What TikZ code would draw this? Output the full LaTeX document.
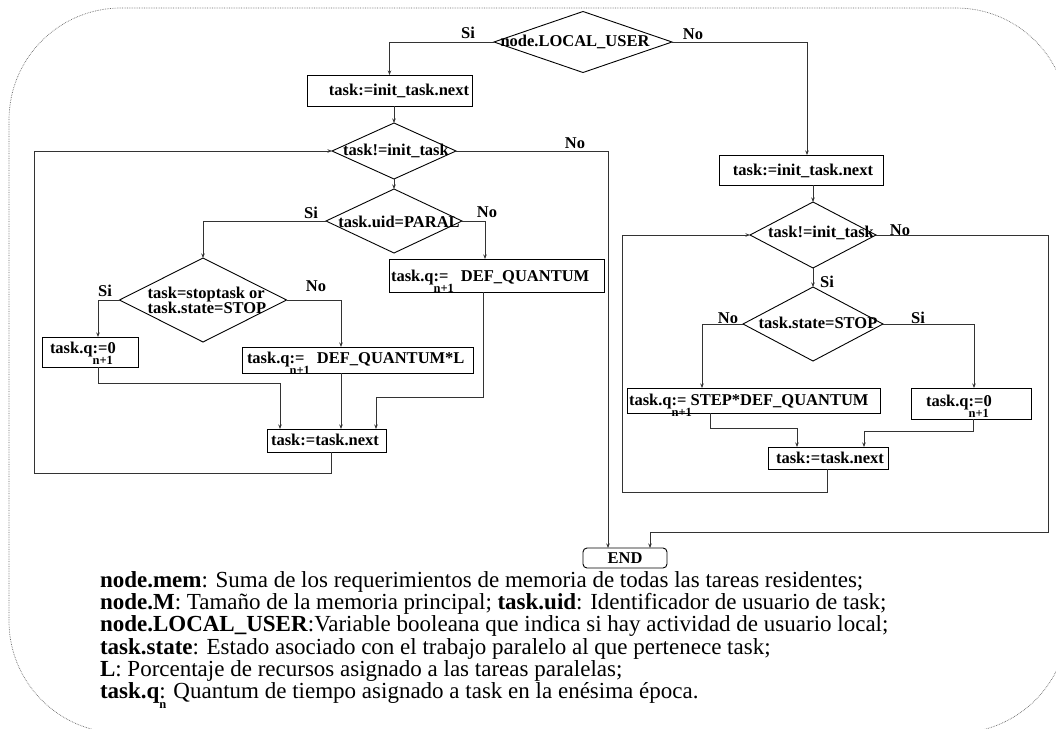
\documentclass[tikz,border=0pt]{standalone}
\usepackage{fontspec}
\setmainfont{Liberation Serif}
\usetikzlibrary{shapes.geometric,arrows.meta}
\newcommand\flowfont{\fontsize{16.5}{18}\selectfont\bfseries}
\newcommand\subfont{\fontsize{12.5}{13}\selectfont\bfseries}
\newcommand\notefont{\fontsize{23}{22.3}\selectfont}
% subscript set under the following characters
\newcommand\qsub[1]{\rlap{\raisebox{-0.7em}{\subfont #1}}}
\begin{document}
\begin{tikzpicture}[x=1pt,y=-1pt,
  every node/.style={inner sep=0pt, outer sep=0pt},
  box/.style={draw, line width=0.9pt, rectangle},
  dia/.style={draw, diamond, line width=0.9pt},
  txt/.style={font=\flowfont},
  lab/.style={font=\flowfont},
  conn/.style={draw=black!80, line width=0.8pt},
  arr/.style={conn, -{Stealth[length=4.5pt,width=3.5pt]}},
  frame/.style={draw=black!60, densely dotted, line width=0.7pt},
  note/.style={font=\notefont, anchor=base west, text height=15pt, text depth=4pt},
]
\useasboundingbox (0,0) rectangle (1056,728);
\begin{scope}
\clip (0,0) rectangle (1056,728);
% rounded frame; its right side and bottom run past the page
\draw[frame, rounded corners=112pt] (1068,621) -- (1068,733) -- (9,733) -- (9,8) -- (1068,8) -- (1068,120);
\end{scope}

% ---------- top decision ----------
\node[dia, minimum width=178, minimum height=61] (d1) at (583,42) {};
\node[txt] (d1t) at (575,42) {node.LOCAL\_USER};

% ---------- left branch ----------
\node[box, minimum width=165, minimum height=31] (b1) at (389.5,90.5) {};
\node[txt] (b1t) at (399,91) {task:=init\_task.next};

\node[dia, minimum width=124, minimum height=56] (d2) at (394,151) {};
\node[txt] (d2t) at (396,151) {task!=init\_task};

\node[dia, minimum width=136, minimum height=64] (d3) at (394,221) {};
\node[txt] (d3t) at (399,222) {task.uid=PARAL};

\node[dia, minimum width=167, minimum height=84] (d4) at (203,300) {};
\node[txt, align=left] (d4t) at (207,300) {task=stoptask or\\[-3pt]task.state=STOP};

\node[box, minimum width=215, minimum height=33] (bq) at (496.5,275.5) {};
\node[txt, anchor=base west] (bqt) at (391,281) {task.q\qsub{n+1}:=\hspace{0.75em}DEF\_QUANTUM};

\node[box, minimum width=96, minimum height=30] (bz) at (90,352) {};
\node[txt, anchor=base west] (bzt) at (50,353) {task.q\qsub{n+1}:=0};

\node[box, minimum width=231, minimum height=26] (bL) at (357.5,360) {};
\node[txt, anchor=base west] (bLt) at (247,363) {task.q\qsub{n+1}:=\hspace{0.75em}DEF\_QUANTUM*L};

\node[box, minimum width=119, minimum height=23] (bn) at (326.5,440.5) {};
\node[txt] (bnt) at (325,440) {task:=task.next};

% ---------- right branch ----------
\node[box, minimum width=164, minimum height=30] (b2) at (801,170) {};
\node[txt] (b2t) at (803,171) {task:=init\_task.next};

\node[dia, minimum width=126, minimum height=66] (d5) at (813,235) {};
\node[txt] (d5t) at (821,233) {task!=init\_task};

\node[dia, minimum width=140, minimum height=74] (d6) at (813,324) {};
\node[txt] (d6t) at (818,323) {task.state=STOP};

\node[box, minimum width=253, minimum height=25] (bS) at (753.5,400.5) {};
\node[txt, anchor=base west] (bSt) at (629,405) {task.q\qsub{n+1}:= STEP*DEF\_QUANTUM};

\node[box, minimum width=120, minimum height=31] (bz2) at (971,403.5) {};
\node[txt, anchor=base west] (bz2t) at (926,406) {task.q\qsub{n+1}:=0};

\node[box, minimum width=120, minimum height=22] (bn2) at (828,458) {};
\node[txt] (bn2t) at (830,458) {task:=task.next};

% ---------- end ----------
\node[draw, line width=0.9pt, rounded corners=4pt, minimum width=84, minimum height=20,
      font=\flowfont] (end) at (625,558) {END};

% ---------- connectors ----------
\draw[arr] (d1.west) -| (b1.north);
\draw[arr] (d1.east) -| ([xshift=6]b2.north);
\node[lab] (l1) at (468,33) {Si};
\node[lab] (l2) at (693,34) {No};

\draw[arr] (d2.north |- b1.south) -- (d2.north);
\draw[arr] (d2.east) -| ([xshift=-17]end.north);
\node[lab] (l3) at (575,143) {No};

\draw[arr] (d2.south) -- (d3.north);
\draw[arr] (d3.west) -| (d4.north);
\draw[arr] (d3.east) -| ([xshift=-11.5]bq.north);
\node[lab] (l4) at (311,213) {Si};
\node[lab] (l5) at (487,212) {No};

\draw[arr] (d4.west) -| ([xshift=8]bz.north);
\draw[arr] (d4.east) -| ([xshift=-16.5]bL.north);
\node[lab] (l6) at (105,291) {Si};
\node[lab] (l7) at (316,286) {No};

\coordinate (bzout) at ([xshift=8]bz.south);
\draw[arr] (bzout) -- ++(0,16) -| ([xshift=-46.5]bn.north);
\coordinate (bLout) at ([xshift=-16.5]bL.south);
\draw[arr] (bLout) -- (bLout |- bn.north);
\coordinate (bqout) at ([xshift=-13.5]bq.south);
\draw[arr] (bqout) -- ++(0,105) -| ([xshift=49.5]bn.north);

\coordinate (bnout) at ([xshift=4.5]bn.south);
\coordinate (lloop) at (34,473);
\draw[arr] (bnout) |- (lloop) |- (d2.west);

\draw[arr] (d5.north |- b2.south) -- (d5.north);
\coordinate (rloop) at (1048,532);
\draw[arr] (d5.east) -| (rloop) -| ([xshift=25]end.north);
\node[lab] (l8) at (900,230) {No};

\draw[arr] (d5.south) -- (d6.north);
\node[lab] (l9) at (827,282) {Si};

\draw[arr] (d6.west) -| ([xshift=-51.5]bS.north);
\draw[arr] (d6.east) -| ([xshift=3]bz2.north);
\node[lab] (l10) at (728,318) {No};
\node[lab] (l11) at (918,318) {Si};

\coordinate (bSout) at ([xshift=-43.5]bS.south);
\draw[arr] (bSout) -- ++(0,15) -| ([xshift=-31]bn2.north);
\coordinate (bz2out) at ([xshift=2]bz2.south);
\draw[arr] (bz2out) -- ++(0,12) -| ([xshift=36]bn2.north);

\coordinate (bn2out) at ([xshift=-1]bn2.south);
\coordinate (rl) at (622,492);
\draw[arr] (bn2out) |- (rl) |- (d5.west);

% ---------- notes ----------
\node[note] (n1) at (100,587) {\textbf{node.mem}: Suma de los requerimientos de memoria de todas las tareas residentes;};
\node[note] (n2) at (100,609) {\textbf{node.M}: Tamaño de la memoria principal; \textbf{task.uid}: Identificador de usuario de task;};
\node[note] (n3) at (100,631.5) {\textbf{node.LOCAL\_USER}:Variable booleana que indica si hay actividad de usuario local;};
\node[note] (n4) at (100,654) {\textbf{task.state}: Estado asociado con el trabajo paralelo al que pertenece task;};
\node[note] (n5) at (100,676.5) {\textbf{L}: Porcentaje de recursos asignado a las tareas paralelas;};
\node[note] (n6) at (100,698.5) {\textbf{task.q}\rlap{\raisebox{-0.42em}{\subfont n}}: Quantum de tiempo asignado a task en la enésima época.};
\end{tikzpicture}
\end{document}
